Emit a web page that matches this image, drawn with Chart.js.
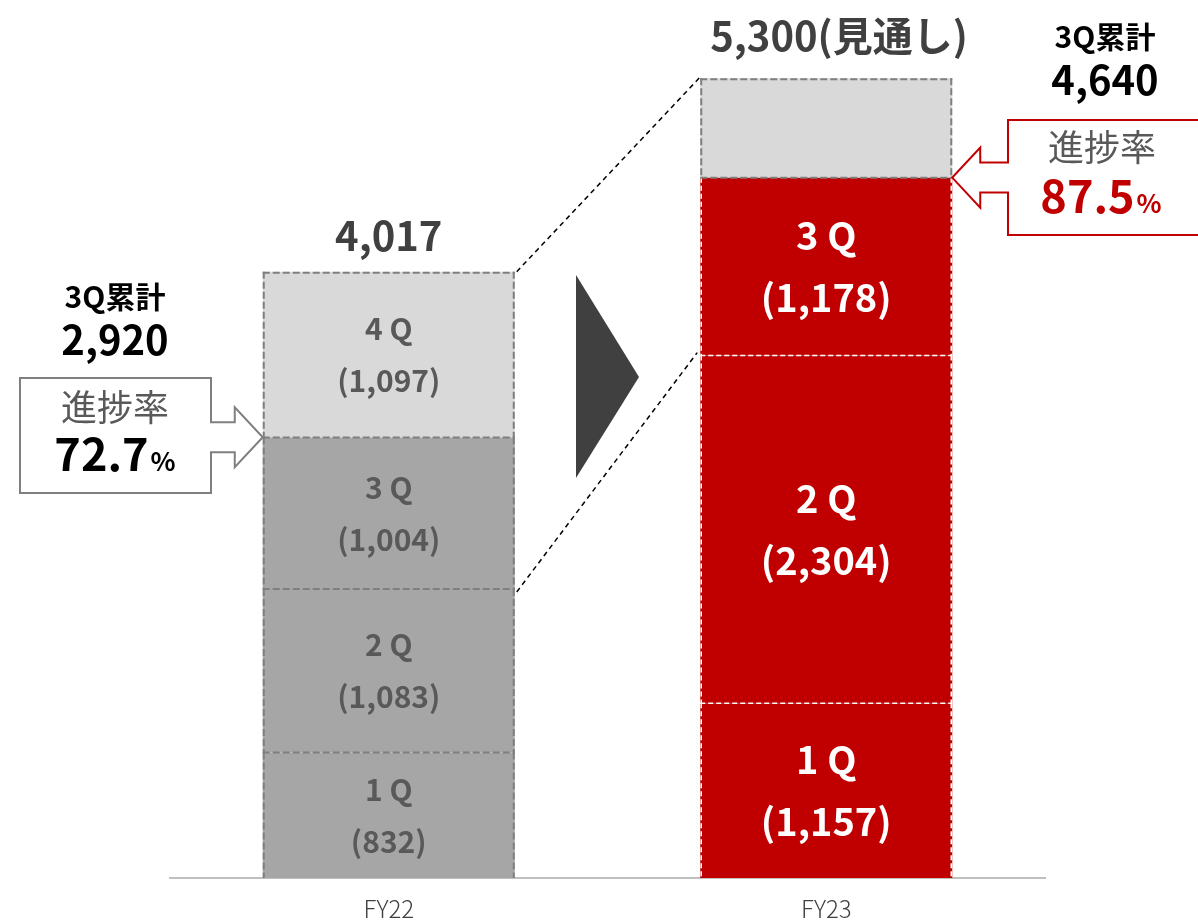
<!DOCTYPE html>
<html lang="ja">
<head>
<meta charset="utf-8">
<title>売上高 四半期推移</title>
<script src="https://cdn.jsdelivr.net/npm/chart.js@4.4.1/dist/chart.umd.min.js"></script>
<style>
  html, body { margin: 0; padding: 0; background: #ffffff; }
  #chart { display: block; }
</style>
</head>
<body>
<canvas id="chart" width="1198" height="920"></canvas>
<script>
// 年度別・四半期別の数値
const categories = ['FY22', 'FY23'];
const q1Sales = [832, 1157];
const q2Sales = [1083, 2304];
const q3Sales = [1004, 1178];
const q4Sales = [1097, 660];   // FY23は見通しの残り分
const yearTotals = [4017, 5300];
const totalLabels = ['4,017', '5,300(見通し)'];
const cumulative3Q = [2920, 4640];
const progressRates = ['72.7', '87.5'];

const JP_FONT = "'Noto Sans CJK JP', 'Noto Sans', sans-serif";
const GRAY_TEXT = '#595959';
const RED = '#c00000';

function fmt(n) {
    return n.toLocaleString('en-US');
}

function drawText(ctx, text, x, y, size, weight, color, align) {
    ctx.save();
    ctx.font = `${weight} ${size}px ${JP_FONT}`;
    ctx.fillStyle = color;
    ctx.textAlign = align || 'center';
    ctx.textBaseline = 'middle';
    ctx.fillText(text, x, y);
    ctx.restore();
}

// 数字 + 小さい「%」を中央揃えで描く
function drawRate(ctx, num, x, y, color) {
    ctx.save();
    ctx.font = `bold 45px ${JP_FONT}`;
    const w1 = ctx.measureText(num).width;
    ctx.font = `bold 26px ${JP_FONT}`;
    const w2 = ctx.measureText('%').width;
    const left = x - (w1 + w2 + 2) / 2;
    ctx.fillStyle = color;
    ctx.textAlign = 'left';
    ctx.textBaseline = 'alphabetic';
    ctx.font = `bold 45px ${JP_FONT}`;
    ctx.fillText(num, left, y + 16);
    ctx.font = `bold 26px ${JP_FONT}`;
    ctx.fillText('%', left + w1 + 2, y + 16);
    ctx.restore();
}

function dashLine(ctx, x1, y1, x2, y2, color, width, dash) {
    ctx.save();
    ctx.strokeStyle = color;
    ctx.lineWidth = width;
    ctx.setLineDash(dash);
    ctx.beginPath();
    ctx.moveTo(x1, y1);
    ctx.lineTo(x2, y2);
    ctx.stroke();
    ctx.restore();
}

// 矢印付きの吹き出し (dir: 1 = 右向き, -1 = 左向き)
function drawCallout(ctx, box, tipX, tipY, dir, color) {
    const headBase = tipX - dir * 28;
    const bodyEdge = dir === 1 ? box.right : box.left;
    const stem = 15, head = 30;
    ctx.save();
    ctx.beginPath();
    if (dir === 1) {
        ctx.moveTo(box.left, box.top);
        ctx.lineTo(box.right, box.top);
    } else {
        ctx.moveTo(box.right, box.top);
        ctx.lineTo(box.left, box.top);
    }
    ctx.lineTo(bodyEdge, tipY - stem);
    ctx.lineTo(headBase, tipY - stem);
    ctx.lineTo(headBase, tipY - head);
    ctx.lineTo(tipX, tipY);
    ctx.lineTo(headBase, tipY + head);
    ctx.lineTo(headBase, tipY + stem);
    ctx.lineTo(bodyEdge, tipY + stem);
    if (dir === 1) {
        ctx.lineTo(box.right, box.bottom);
        ctx.lineTo(box.left, box.bottom);
    } else {
        ctx.lineTo(box.left, box.bottom);
        ctx.lineTo(box.right, box.bottom);
    }
    ctx.closePath();
    ctx.fillStyle = '#ffffff';
    ctx.fill();
    ctx.strokeStyle = color;
    ctx.lineWidth = 2;
    ctx.stroke();
    ctx.restore();
}

// 各セグメントの点線枠と「nQ (値)」ラベル
const segmentPlugin = {
    id: 'segments',
    afterDatasetsDraw(chart) {
        const ctx = chart.ctx;
        const nSets = chart.data.datasets.length;
        chart.data.datasets.forEach((ds, di) => {
            const meta = chart.getDatasetMeta(di);
            meta.data.forEach((bar, i) => {
                const left = bar.x - bar.width / 2;
                const right = bar.x + bar.width / 2;
                const top = bar.y, bottom = bar.base;
                const color = ds.dashColor[i];
                const w = ds.dashWidth[i];
                const dash = ds.dashPattern[i];
                dashLine(ctx, left + 1, top, left + 1, bottom, color, w, dash);
                dashLine(ctx, right - 1, top, right - 1, bottom, color, w, dash);
                if (di > 0) dashLine(ctx, left, bottom, right, bottom, color, w, dash);
                if (di === nSets - 1) dashLine(ctx, left, top + 1, right, top + 1, color, w, dash);

                if (ds.showLabel[i]) {
                    const cy = (top + bottom) / 2;
                    const big = i === 1;
                    const size = big ? 38 : 30;
                    const gap = big ? 31 : 26;
                    const col = big ? '#ffffff' : GRAY_TEXT;
                    drawText(ctx, `${di + 1} Q`, bar.x, cy - gap, size, 'bold', col);
                    drawText(ctx, `(${fmt(ds.data[i])})`, bar.x, cy + gap, size, 'bold', col);
                }
            });
        });
    }
};

// 合計・累計・進捗率などの注記
const annotationPlugin = {
    id: 'notes',
    afterDraw(chart) {
        const ctx = chart.ctx;
        const y = chart.scales.y;
        const top = chart.getDatasetMeta(3).data;
        const b0 = top[0], b1 = top[1];
        const b0Right = b0.x + b0.width / 2, b0Left = b0.x - b0.width / 2;
        const b1Left = b1.x - b1.width / 2, b1Right = b1.x + b1.width / 2;

        // 前年→今年の点線の対応線
        dashLine(ctx, b0Right + 2, y.getPixelForValue(yearTotals[0]), b1Left - 1, y.getPixelForValue(yearTotals[1]), '#000000', 1.5, [5, 4]);
        dashLine(ctx, b0Right + 2, y.getPixelForValue(q1Sales[0] + q2Sales[0]) + 3, b1Left - 3, y.getPixelForValue(q1Sales[1] + q2Sales[1]) - 3, '#000000', 1.5, [5, 4]);

        // 中央の三角矢印
        ctx.save();
        ctx.fillStyle = '#404040';
        ctx.beginPath();
        ctx.moveTo(576, 275);
        ctx.lineTo(639, 377);
        ctx.lineTo(576, 478);
        ctx.closePath();
        ctx.fill();
        ctx.restore();

        // 合計
        drawText(ctx, totalLabels[0], b0.x, y.getPixelForValue(yearTotals[0]) - 36, 40, 'bold', '#404040');
        drawText(ctx, totalLabels[1], 839, y.getPixelForValue(yearTotals[1]) - 42, 40, 'bold', '#404040');

        // FY22 3Q累計と進捗率
        drawText(ctx, '3Q累計', 115, 297, 30, 'bold', '#000000');
        drawText(ctx, fmt(cumulative3Q[0]), 115, 340, 40, 'bold', '#000000');
        drawCallout(ctx, { left: 20, top: 378, right: 211, bottom: 493 }, b0Left, y.getPixelForValue(cumulative3Q[0]), 1, '#7f7f7f');
        drawText(ctx, '進捗率', 115, 407, 36, 'normal', GRAY_TEXT);
        drawRate(ctx, progressRates[0], 115, 455, '#000000');

        // FY23 3Q累計と進捗率
        drawText(ctx, '3Q累計', 1105, 37, 30, 'bold', '#000000');
        drawText(ctx, fmt(cumulative3Q[1]), 1105, 80, 40, 'bold', '#000000');
        drawCallout(ctx, { left: 1008, top: 120, right: 1200, bottom: 235 }, b1Right, y.getPixelForValue(cumulative3Q[1]), -1, RED);
        drawText(ctx, '進捗率', 1102, 147, 36, 'normal', GRAY_TEXT);
        drawRate(ctx, progressRates[1], 1101, 197, RED);
    }
};

function segmentSet(label, values, colors, dashColors, showLabel) {
    return {
        label: label,
        data: values,
        backgroundColor: colors,
        borderWidth: 0,
        dashColor: dashColors,
        dashWidth: dashColors.map(c => c === '#ffffff' ? 1.5 : 2),
        dashPattern: dashColors.map(c => c === '#ffffff' ? [5, 3] : [7, 3]),
        showLabel: showLabel
    };
}

const ctx = document.getElementById('chart').getContext('2d');
const myChart = new Chart(ctx, {
    type: 'bar',
    data: {
        labels: categories,
        datasets: [
            segmentSet('1Q', q1Sales, ['#a6a6a6', RED], ['#7f7f7f', '#ffffff'], [true, true]),
            segmentSet('2Q', q2Sales, ['#a6a6a6', RED], ['#7f7f7f', '#ffffff'], [true, true]),
            segmentSet('3Q', q3Sales, ['#a6a6a6', RED], ['#7f7f7f', '#ffffff'], [true, true]),
            segmentSet('4Q', q4Sales, ['#d9d9d9', '#d9d9d9'], ['#7f7f7f', '#7f7f7f'], [true, false])
        ]
    },
    options: {
        responsive: false,
        animation: false,
        devicePixelRatio: 1,
        layout: { padding: { top: 78, left: 170, right: 153, bottom: 2 } },
        datasets: { bar: { categoryPercentage: 1, barPercentage: 0.576 } },
        plugins: {
            legend: { display: false },
            tooltip: { enabled: false }
        },
        scales: {
            x: {
                stacked: true,
                grid: { display: false, drawTicks: false },
                border: { display: true, color: '#bfbfbf', width: 2 },
                ticks: {
                    padding: 16,
                    color: '#404040',
                    font: { family: JP_FONT, size: 24, weight: 300 }
                },
                // 軸の高さを固定してバーの底を揃える
                afterFit(scale) {
                    scale.height = 40;
                }
            },
            y: {
                stacked: true,
                display: false,
                min: 0,
                max: yearTotals[1]
            }
        }
    },
    plugins: [segmentPlugin, annotationPlugin]
});
</script>
</body>
</html>
